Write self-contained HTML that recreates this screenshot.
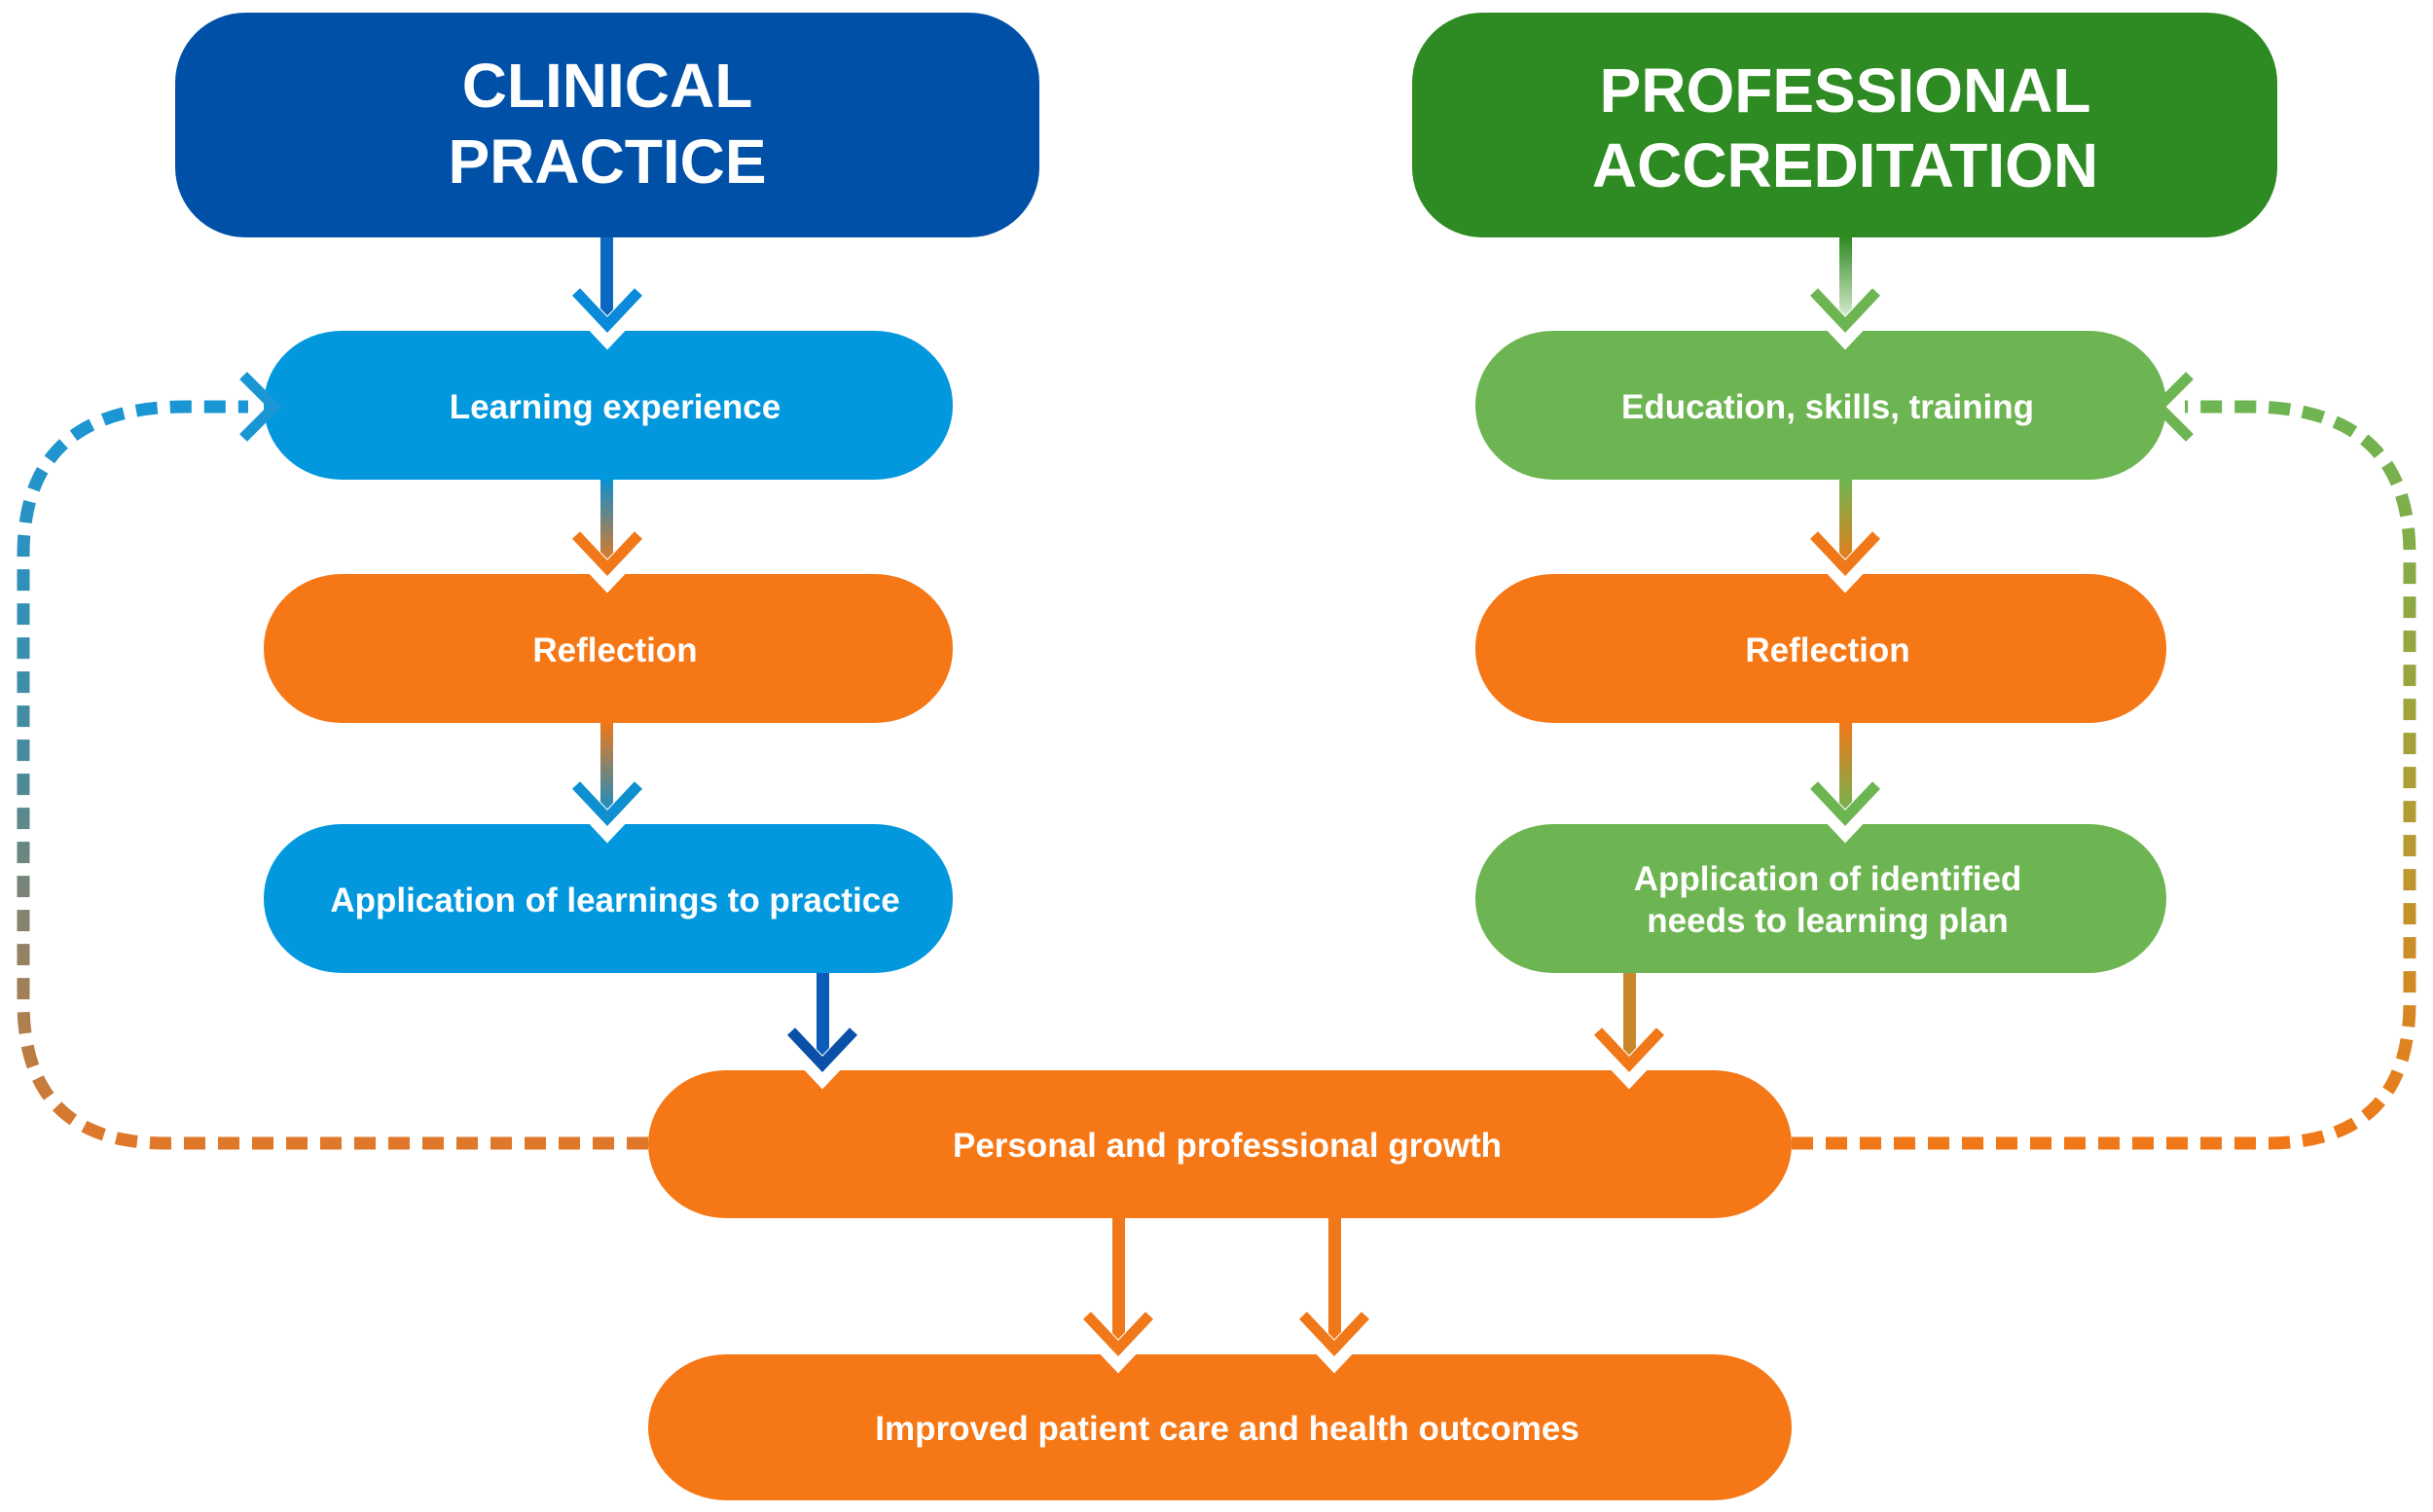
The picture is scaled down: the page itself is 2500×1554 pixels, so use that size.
<!DOCTYPE html>
<html><head><meta charset="utf-8"><style>
html,body{margin:0;padding:0;background:#fff;}
svg{display:block;}
text{font-family:"Liberation Sans",sans-serif;font-weight:bold;fill:#fff;text-anchor:middle;}
</style></head><body>
<svg width="2500" height="1554" viewBox="0 0 2500 1554" xmlns="http://www.w3.org/2000/svg">
<defs>
<linearGradient id="gL" x1="0" y1="418" x2="0" y2="1175" gradientUnits="userSpaceOnUse"><stop offset="0" stop-color="#1a96d4"/><stop offset="0.5" stop-color="#4a8a9a"/><stop offset="1" stop-color="#e0782a"/></linearGradient>
<linearGradient id="gR" x1="0" y1="418" x2="0" y2="1175" gradientUnits="userSpaceOnUse"><stop offset="0" stop-color="#6db552"/><stop offset="0.6" stop-color="#b79a30"/><stop offset="1" stop-color="#f07818"/></linearGradient>
<linearGradient id="bo" x1="0" y1="0" x2="0" y2="1" ><stop offset="0" stop-color="#0d8fd0"/><stop offset="1" stop-color="#f07818"/></linearGradient>
<linearGradient id="ob" x1="0" y1="0" x2="0" y2="1"><stop offset="0" stop-color="#f07818"/><stop offset="1" stop-color="#0d8fd0"/></linearGradient>
<linearGradient id="go" x1="0" y1="0" x2="0" y2="1"><stop offset="0" stop-color="#6db552"/><stop offset="1" stop-color="#f07818"/></linearGradient>
<linearGradient id="og" x1="0" y1="0" x2="0" y2="1"><stop offset="0" stop-color="#f07818"/><stop offset="1" stop-color="#6db552"/></linearGradient>
<linearGradient id="gw" x1="0" y1="0" x2="0" y2="1"><stop offset="0" stop-color="#2e8a22"/><stop offset="1" stop-color="#e8f4e0"/></linearGradient>
</defs>

<!-- dashed loops -->
<path d="M666 1175 L170 1175 Q24 1175 24 1030 L24 570 Q24 418 190 418 L255 418" fill="none" stroke="url(#gL)" stroke-width="13" stroke-dasharray="22 13"/>
<path d="M1841 1175 L2330 1175 Q2476 1175 2476 1030 L2476 570 Q2476 418 2310 418 L2245 418" fill="none" stroke="url(#gR)" stroke-width="13" stroke-dasharray="22 13"/>

<!-- header boxes -->
<rect x="180" y="13" width="888" height="231" rx="72" fill="#0050a8"/>
<rect x="1451" y="13" width="889" height="231" rx="72" fill="#2e8a22"/>
<text x="624" y="110" font-size="64">CLINICAL</text>
<text x="624" y="188" font-size="64">PRACTICE</text>
<text x="1896" y="115" font-size="64">PROFESSIONAL</text>
<text x="1896" y="192" font-size="64">ACCREDITATION</text>

<!-- connectors (lines) -->
<rect x="617" y="244" width="13" height="90" fill="#0a68c0"/>
<rect x="617" y="493" width="13" height="90" fill="url(#bo)"/>
<rect x="617" y="743" width="13" height="96" fill="url(#ob)"/>
<rect x="839" y="1000" width="13" height="95" fill="#0a5cb8"/>
<rect x="1890" y="244" width="13" height="90" fill="url(#gw)"/>
<rect x="1890" y="493" width="13" height="90" fill="url(#go)"/>
<rect x="1890" y="743" width="13" height="96" fill="url(#og)"/>
<rect x="1668" y="1000" width="13" height="95" fill="#c8882a"/>
<rect x="1143" y="1252" width="13" height="135" fill="#f07818"/>
<rect x="1365" y="1252" width="13" height="135" fill="#f07818"/>

<!-- boxes -->
<g>
<rect x="271" y="340" width="708" height="153" rx="80" ry="76" fill="#0398de"/>
<rect x="271" y="590" width="708" height="153" rx="80" ry="76" fill="#f57716"/>
<rect x="271" y="847" width="708" height="153" rx="80" ry="76" fill="#0398de"/>
<rect x="1516" y="340" width="710" height="153" rx="80" ry="76" fill="#6db552"/>
<rect x="1516" y="590" width="710" height="153" rx="80" ry="76" fill="#f57716"/>
<rect x="1516" y="847" width="710" height="153" rx="80" ry="76" fill="#6db552"/>
<rect x="666" y="1100" width="1175" height="152" rx="80" ry="76" fill="#f57716"/>
<rect x="666" y="1392" width="1175" height="150" rx="80" ry="75" fill="#f57716"/>
</g>

<!-- chevrons: white outline + colored -->
<g fill="none" stroke-linecap="butt" stroke-linejoin="miter">
<g stroke="#fff" stroke-width="24">
<polyline points="592,308 624,342 656,308"/>
<polyline points="592,558 624,592 656,558"/>
<polyline points="592,815 624,849 656,815"/>
<polyline points="1864,308 1896,342 1928,308"/>
<polyline points="1864,558 1896,592 1928,558"/>
<polyline points="1864,815 1896,849 1928,815"/>
<polyline points="813,1068 845,1102 877,1068"/>
<polyline points="1642,1068 1674,1102 1706,1068"/>
<polyline points="1117,1360 1149,1394 1181,1360"/>
<polyline points="1339,1360 1371,1394 1403,1360"/>
</g>
<g stroke-width="11">
<polyline points="592,300 624,334 656,300" stroke="#0a8ad8"/>
<polyline points="592,550 624,584 656,550" stroke="#f07818"/>
<polyline points="592,807 624,841 656,807" stroke="#0d8fd0"/>
<polyline points="1864,300 1896,334 1928,300" stroke="#6db552"/>
<polyline points="1864,550 1896,584 1928,550" stroke="#f07818"/>
<polyline points="1864,807 1896,841 1928,807" stroke="#6db552"/>
<polyline points="813,1060 845,1094 877,1060" stroke="#0a50a8"/>
<polyline points="1642,1060 1674,1094 1706,1060" stroke="#f07818"/>
<polyline points="1117,1352 1149,1386 1181,1352" stroke="#f07818"/>
<polyline points="1339,1352 1371,1386 1403,1352" stroke="#f07818"/>
<polyline points="250,386 282,418 250,450" stroke="#1a96d4"/>
<polyline points="2250,386 2218,418 2250,450" stroke="#6db552"/>
</g>
</g>

<!-- labels -->
<g font-size="35">
<text x="632" y="430">Learning experience</text>
<text x="632" y="680">Reflection</text>
<text x="632" y="937">Application of learnings to practice</text>
<text x="1878" y="430">Education, skills, training</text>
<text x="1878" y="680">Reflection</text>
<text x="1878" y="915">Application of identified</text>
<text x="1878" y="958">needs to learning plan</text>
<text x="1261" y="1189">Personal and professional growth</text>
<text x="1261" y="1480">Improved patient care and health outcomes</text>
</g>
</svg>
</body></html>
